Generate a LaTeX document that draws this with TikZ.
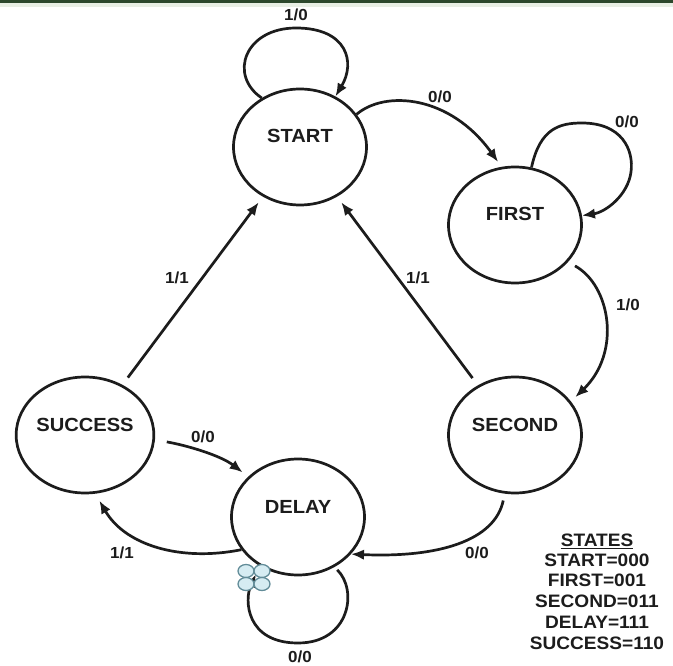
\documentclass[tikz,border=0pt]{standalone}
\usepackage{fontspec}
\setmainfont{Liberation Sans}[FakeStretch=1.06]
\usetikzlibrary{shapes.geometric,arrows.meta}
\definecolor{ink}{RGB}{28,28,28}
\definecolor{framegreen}{RGB}{44,72,44}
\definecolor{framehaze}{RGB}{232,239,228}
\definecolor{pinfill}{RGB}{214,236,242}
\definecolor{pinedge}{RGB}{98,140,152}
\begin{document}
\begin{tikzpicture}[x=1pt,y=-1pt,
  fsm/.style={ellipse,draw=ink,line width=2.7pt,minimum width=133pt,minimum height=116pt,
    inner sep=0pt,font=\bfseries\fontsize{19}{19}\selectfont,text=ink,
    text height=14pt,text depth=22pt},
  tr/.style={draw=ink,line width=2.7pt,-{Latex[length=13pt,width=10.5pt]}},
  lbl/.style={font=\bfseries\fontsize{16}{16}\selectfont,text=ink,inner sep=0pt},
  legend/.style={font=\bfseries\fontsize{18}{20.75}\selectfont,text=ink,inner sep=0pt},
  pin/.style={draw=pinedge,fill=pinfill,line width=1.3pt}
]
\useasboundingbox (0,0) rectangle (673,666);
\fill[white] (0,0) rectangle (673,666);
% frame edge along the top
\fill[framehaze] (0,3.5) rectangle (673,7);
\fill[framegreen] (0,0) rectangle (673,3.5);

% states
\node[fsm] (s) at (300,147) {START};
\node[fsm] (f) at (515,225) {FIRST};
\node[fsm] (c) at (515,435) {SECOND};
\node[fsm] (d) at (298,517) {DELAY};
\node[fsm] (u) at (85,435) {SUCCESS};

% self loops
\draw[tr] (s.128) .. controls (228,75) and (245,28) .. (296,28)
          .. controls (347,28) and (356,62) .. (s.55);
\draw[tr] (f.74) .. controls (540,128) and (560,123) .. (582,123)
          .. controls (622,123) and (634,150) .. (631,172)
          .. controls (628,195) and (606,212) .. (f.8);
\draw[tr,shorten <=4pt,shorten >=9pt] (d.-54) .. controls (358,590) and (350,643) .. (298,643)
          .. controls (246,643) and (244,600) .. (d.-128);

% transitions
\draw[tr,shorten >=6pt] (s.30) .. controls (385,90) and (450,95) .. (f.103);
\draw[tr,shorten <=8pt,shorten >=6pt] (f.-35) .. controls (610,285) and (622,352) .. (c.31);
\draw[tr,shorten <=7pt] (c.-100) .. controls (495,540) and (440,558) .. (d.-35);
\draw[tr,shorten <=12pt,shorten >=7pt] (u.-4) .. controls (185,445) and (220,455) .. (d.141);
\draw[tr,shorten >=8pt] (d.-150) .. controls (180,562) and (125,545) .. (u.-80);
\draw[tr,shorten <=9pt,shorten >=7pt] (u) -- (s);
\draw[tr,shorten <=9pt,shorten >=7pt] (c) -- (s);

% transition labels
\node[lbl] (l1) at (296,15) {1/0};
\node[lbl] (l2) at (440,97) {0/0};
\node[lbl] (l3) at (627,122) {0/0};
\node[lbl] (l4) at (628,305) {1/0};
\node[lbl] (l5) at (177,278) {1/1};
\node[lbl] (l6) at (418,278) {1/1};
\node[lbl] (l7) at (203,437) {0/0};
\node[lbl] (l8) at (122,553) {1/1};
\node[lbl] (l9) at (477,553) {0/0};
\node[lbl] (l10) at (300,657) {0/0};

% pin marker on the DELAY loop
\draw[pin] (246,571) ellipse (8 and 6.5);
\draw[pin] (262,571) ellipse (8 and 6.5);
\draw[pin] (246,584) ellipse (8 and 6.5);
\draw[pin] (262,584) ellipse (8 and 6.5);

% state encoding
\node[legend] (ttl) at (597,540) {STATES};
\draw[ink,line width=1.6pt] ([yshift=-2.5pt]ttl.base west) -- ([yshift=-2.5pt]ttl.base east);
\node[legend,align=center] (codes) at (597,601.5)
  {START=000\\FIRST=001\\SECOND=011\\DELAY=111\\SUCCESS=110};
\end{tikzpicture}
\end{document}
